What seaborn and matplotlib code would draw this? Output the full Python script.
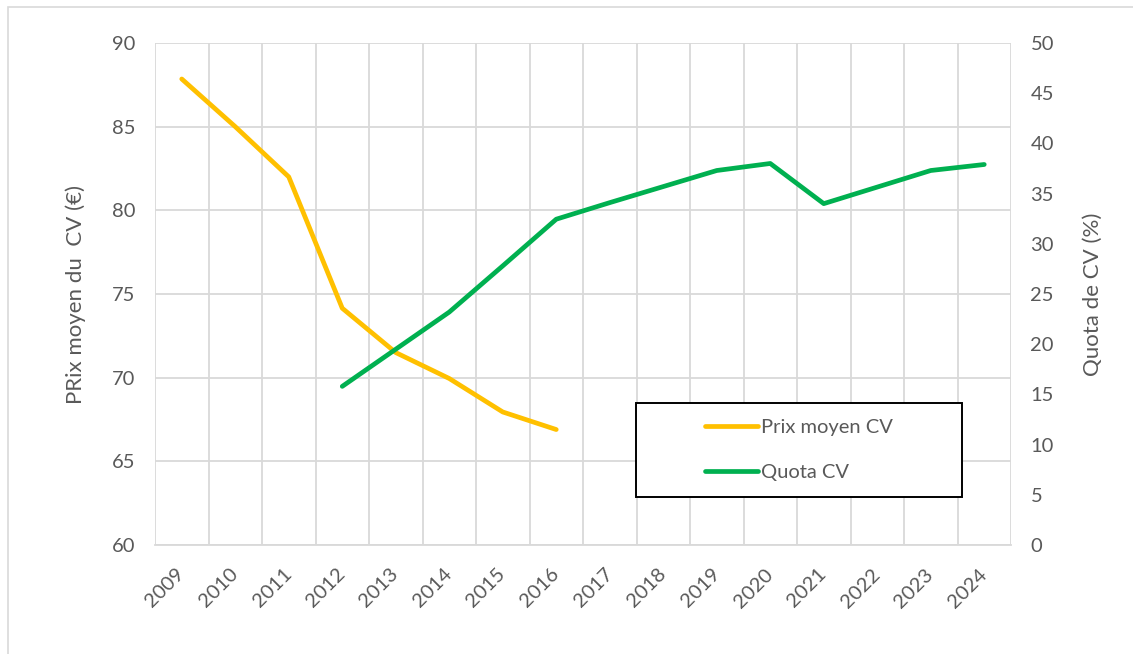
import numpy as np
import pandas as pd
import matplotlib
matplotlib.use("Agg")
import matplotlib.pyplot as plt
import matplotlib.patches as mpatches
from matplotlib.lines import Line2D
import seaborn as sns

years = [2009, 2010, 2011, 2012, 2013, 2014, 2015, 2016,
         2017, 2018, 2019, 2020, 2021, 2022, 2023, 2024]
prix_moyen = [87.85, 85.0, 82.0, 74.15, 71.5, 69.95, 67.95, 66.9,
              None, None, None, None, None, None, None, None]
quota = [None, None, None, 15.8, 19.5, 23.2, 27.8, 32.45,
         34.1, 35.7, 37.3, 38.0, 34.0, 35.65, 37.3, 37.9]
left_ticks = [60, 65, 70, 75, 80, 85, 90]
right_ticks = [0, 5, 10, 15, 20, 25, 30, 35, 40, 45, 50]
label_prix = "Prix moyen CV"
label_quota = "Quota CV"
ylabel_left = "PRix moyen du  CV (€)"
ylabel_right = "Quota de CV (%)"

df = pd.DataFrame({"Année": years,
                   "Prix": pd.to_numeric(pd.Series(prix_moyen), errors="coerce"),
                   "Quota": pd.to_numeric(pd.Series(quota), errors="coerce")})

sns.set_theme(style="white")
plt.rcParams['font.family'] = ['Lato', 'DejaVu Sans']

TXT = "#595959"
GRID = "#D9D9D9"
ORANGE = "#FFC000"
GREEN = "#00B050"
FS = 14.5
FS_T = 16

fig = plt.figure(figsize=(11.33, 6.54), dpi=100)
ax = fig.add_axes([155/1133, 1-545/654, (1011-155)/1133, (545-43)/654])
ax2 = ax.twinx()

sns.lineplot(data=df.dropna(subset=["Prix"]), x="Année", y="Prix", ax=ax,
             color=ORANGE, linewidth=3.4, solid_capstyle="round", legend=False)
sns.lineplot(data=df.dropna(subset=["Quota"]), x="Année", y="Quota", ax=ax2,
             color=GREEN, linewidth=3.4, solid_capstyle="round", legend=False)

ax.set_xlim(years[0]-0.5, years[-1]+0.5)
ax.set_ylim(left_ticks[0], left_ticks[-1])
ax2.set_ylim(right_ticks[0], right_ticks[-1])
ax.set_yticks(left_ticks)
ax2.set_yticks(right_ticks)
ax.set_xticks(years)
ax.set_xticks([y-0.5 for y in years] + [years[-1]+0.5], minor=True)
ax.set_xticklabels([str(y) for y in years], rotation=45, ha="right", va="center",
                   rotation_mode="anchor")

ax.grid(False)
ax2.grid(False)
ax.grid(axis="y", which="major", color=GRID, linewidth=1.3)
ax.grid(axis="x", which="minor", color=GRID, linewidth=1.3)
ax.set_axisbelow(True)

for a in (ax, ax2):
    for s in a.spines.values():
        s.set_visible(False)
ax.spines["bottom"].set_visible(True)
ax.spines["bottom"].set_color(GRID)
ax.spines["bottom"].set_linewidth(1.3)

ax.tick_params(axis="y", length=0, pad=14, labelsize=FS, labelcolor=TXT)
ax2.tick_params(axis="y", length=0, pad=14, labelsize=FS, labelcolor=TXT)
ax.tick_params(axis="x", which="both", length=0, pad=19, labelsize=FS, labelcolor=TXT)

ax.set_xlabel("")
ax.set_ylabel(ylabel_left, fontsize=FS_T, color=TXT)
ax2.set_ylabel(ylabel_right, fontsize=FS_T, color=TXT)
ax.yaxis.set_label_coords(-0.081, 0.5)
ax2.yaxis.set_label_coords(1.084, 0.5)

# legend box
x0 = (636-155)/856
y0 = (545-497)/502
w = (962-636)/856
h = (497-403)/502
rect = mpatches.Rectangle((x0, y0), w, h, transform=ax2.transAxes,
                          facecolor="white", edgecolor="black", linewidth=1.4, zorder=5)
ax2.add_patch(rect)
handles = [Line2D([], [], color=ORANGE, linewidth=3.4, solid_capstyle="round"),
           Line2D([], [], color=GREEN, linewidth=3.4, solid_capstyle="round")]
leg = ax2.legend(handles, [label_prix, label_quota], loc="center",
                 bbox_to_anchor=(x0, y0, w, h), frameon=False, fontsize=FS,
                 handlelength=2.6, handletextpad=0.15, labelspacing=1.4,
                 borderaxespad=0)
for t in leg.get_texts():
    t.set_color(TXT)
leg.set_zorder(6)

# chart border
border = mpatches.Rectangle((8/1133, -0.05), 1.2, 1-7/654+0.05, transform=fig.transFigure,
                            facecolor="none", edgecolor=GRID, linewidth=1.2)
fig.patches.append(border)

fig.savefig("out.png", dpi=100)
